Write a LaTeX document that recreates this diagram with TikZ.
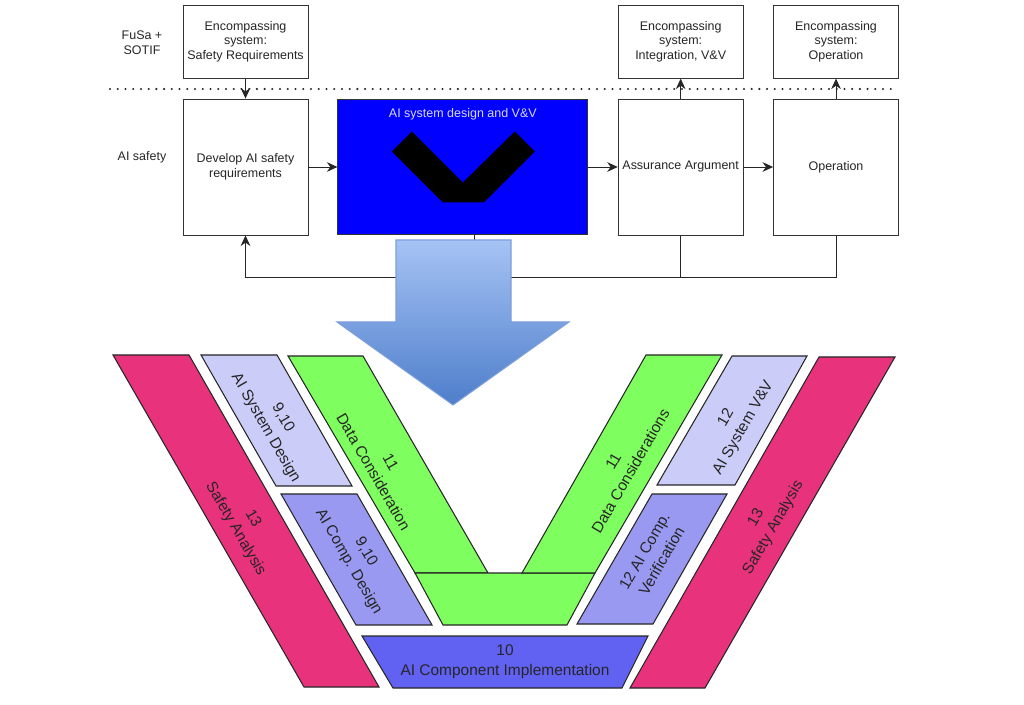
\documentclass[tikz,border=0pt]{standalone}
\usepackage{xcolor}
\usepackage{fontspec}
\setmainfont{Liberation Sans}
\usepackage{tikz}
\usetikzlibrary{arrows.meta,positioning}

\definecolor{safetypink}{HTML}{E8327C}
\definecolor{datagreen}{HTML}{7FFF5F}
\definecolor{sysblue}{HTML}{CCCCF8}
\definecolor{compblue}{HTML}{9999F2}
\definecolor{implblue}{HTML}{6161F2}
\definecolor{arrowtop}{HTML}{A6C3F4}
\definecolor{arrowbot}{HTML}{4E7ECB}
\definecolor{arrowedge}{HTML}{7C9FDA}
\definecolor{titlegrey}{HTML}{D9D9F7}

\begin{document}
\begin{tikzpicture}[x=0.02cm, y=-0.02cm,
    box/.style={draw=black!80, line width=0.5pt, rectangle, fill=white,
                minimum width=2.5cm, align=center, inner sep=1pt,
                text=black!85, font=\fontsize{7.1}{8.4}\selectfont},
    encbox/.style={box, minimum height=1.46cm},
    stagebox/.style={box, minimum height=2.72cm},
    vvbox/.style={draw=black!80, line width=0.5pt, fill=blue,
                  minimum width=5cm, minimum height=2.7cm},
    sidelabel/.style={align=center, text=black!85, font=\fontsize{7.1}{8.4}\selectfont},
    arrow/.style={-{Stealth[length=6pt,width=5.5pt]}, line width=0.55pt, draw=black!85},
    wire/.style={line width=0.55pt, draw=black!85},
    vpart/.style={draw=black!85, line width=0.6pt},
    vlabel/.style={align=center, text=black!85, font=\fontsize{8.8}{11.3}\selectfont},
    node distance=0.4cm and 0.59cm
]
\useasboundingbox (0,0) rectangle (1024,705);

% top: process chain
\node[stagebox] (devreq) at (245.5,167) {Develop AI safety\\requirements};
\node[vvbox, right=0.58cm of devreq] (vv) {};
\node[stagebox, right=of vv] (assure) {Assurance Argument};
\node[stagebox, right=of assure] (oper) {Operation};

\node[encbox, above=of devreq] (encreq) {Encompassing\\system:\\Safety Requirements};
\node[encbox, above=of assure] (encvv) {Encompassing\\system:\\Integration, V\&V};
\node[encbox, above=of oper] (encop) {Encompassing\\system:\\Operation};

\node[sidelabel] (fusa) at (142,43) {FuSa +\\SOTIF};
\node[sidelabel] (aisafety) at (142,157) {AI safety};

\draw[dash pattern=on 0pt off 4.4pt, line cap=round, line width=1.3pt, black!85]
  (110,89) -- (895,89);

\node[inner sep=0pt, text=titlegrey, font=\fontsize{7.1}{8.4}\selectfont,
      below=0.18cm of vv.north] (vvtitle) {AI system design and V\&V};
\fill[black, shift={(vv.center)}] (-51,-35.5) -- (0,15.5) -- (52,-35.5)
  -- (72,-15.5) -- (21,35.5) -- (-20,35.5) -- (-71,-15.5) -- cycle;

\draw[arrow] (encreq) -- (devreq);
\draw[arrow] (devreq) -- (vv);
\draw[arrow] (vv) -- (assure);
\draw[arrow] (assure) -- (oper);
\draw[arrow] (assure) -- (encvv);
\draw[arrow] (oper) -- (encop);

% feedback loop
\coordinate (fb) at (assure.south |- 0,277);
\draw[wire] (oper.south) |- (fb);
\draw[arrow] (assure.south) -- (fb) -| (devreq.south);

% big arrow down to the V
\coordinate (stub) at (474,240);
\draw[wire] (stub |- vv.south) -- (stub);
\draw[draw=arrowedge, top color=arrowtop, bottom color=arrowbot, line width=0.6pt]
  (396,240) -- (511,240) -- (511,322) -- (569,322) -- (453,405)
  -- (337,322) -- (396,322) -- cycle;

% bottom: the V
\filldraw[vpart, fill=safetypink] (113,355) -- (189,355) -- (379,687) -- (304,687) -- cycle;
\node[vlabel, rotate=-60] (safetyl) at (244,524) {13\\Safety Analysis};
\filldraw[vpart, fill=sysblue] (201,355) -- (277,355) -- (352,486) -- (276,486) -- cycle;
\node[vlabel, rotate=-60] (sysdesign) at (274,423) {9,10\\AI System Design};
\filldraw[vpart, fill=compblue] (281,494) -- (357,494) -- (432,625) -- (356,625) -- cycle;
\node[vlabel, rotate=-60] (compdesign) at (357,557) {9,10\\AI Comp. Design};

\filldraw[vpart, fill=datagreen] (288,356) -- (363,356) -- (488,573) -- (415,573) -- cycle;
\filldraw[vpart, fill=datagreen] (415,573) -- (595,573) -- (567,625) -- (443,625) -- cycle;
\filldraw[vpart, fill=datagreen] (646,355) -- (722,355) -- (595,573) -- (522,573) -- cycle;
\node[vlabel, rotate=-60] (datal) at (382,467) {11\\Data Consideration};
\node[vlabel, rotate=60] (datar) at (622,466) {11\\Data Considerations};

\filldraw[vpart, fill=sysblue] (732,356) -- (807,356) -- (735,485) -- (657,485) -- cycle;
\node[vlabel, rotate=60] (sysvv) at (735,423) {12\\AI System V\&V};
\filldraw[vpart, fill=compblue] (652,494) -- (727,494) -- (653,624) -- (577,624) -- cycle;
\node[vlabel, rotate=60] (compver) at (653,556) {12 AI Comp.\\Verification};
\filldraw[vpart, fill=safetypink] (819,357) -- (895,357) -- (705,688) -- (630,688) -- cycle;
\node[vlabel, rotate=60] (safetyr) at (765,523) {13\\Safety Analysis};

\filldraw[vpart, fill=implblue] (362,636) -- (648,636) -- (622,688) -- (393,688) -- cycle;
\node[vlabel] (impl) at (505,662) {10\\AI Component Implementation};
\end{tikzpicture}
\end{document}
